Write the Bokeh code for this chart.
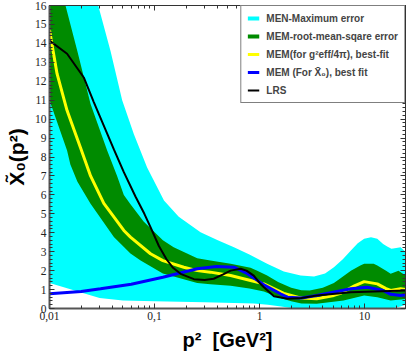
from bokeh.plotting import figure
from bokeh.models import (FixedTicker, SingleIntervalTicker, LogAxis, LinearAxis,
                          Legend, LegendItem, CustomJSTickFormatter)
from bokeh.embed import file_html
from bokeh.resources import INLINE

# ---------------- data ----------------
# MEN - maximum error band
x_cyan_up = [0.01, 0.02, 0.0291, 0.0381, 0.0492, 0.0636, 0.085, 0.123, 0.17, 0.274, 0.4, 0.57,
             0.8, 1.18, 1.7, 2.46, 3.3, 4.2, 5.1, 6.2, 7.4, 8.6, 9.9, 11.5, 13.2, 15.0, 16.4,
             18.0, 20.0, 22.0, 24.5]
y_cyan_up = [24.0, 19.0, 16.0, 13.6, 11.0, 9.2, 7.45, 5.7, 4.85, 4.03, 3.6, 3.24,
             2.85, 2.36, 1.95, 1.74, 1.69, 1.85, 2.18, 2.6, 3.06, 3.45, 3.68, 3.76, 3.68, 3.4, 3.27,
             3.15, 3.2, 3.24, 3.0]
x_cyan_lo = [0.01, 0.015, 0.02, 0.03, 0.05, 0.1, 0.3, 0.88, 1.2, 1.6, 2.0, 3.0, 10.0, 18.0, 22.0, 24.5]
y_cyan_lo = [1.35, 1.05, 0.85, 0.55, 0.42, 0.38, 0.33, 0.26, 0.2, 0.1, 0.03, 0.0, 0.0, 0.0, 0.1, 0.2]

# MEM - root-mean-square error band
x_green_up = [0.01, 0.0142, 0.0184, 0.0246, 0.0354, 0.044, 0.051, 0.059, 0.0787, 0.12, 0.152,
              0.255, 0.34, 0.53, 0.82, 0.95, 1.18, 1.5, 2.0, 2.5, 3.0, 4.0, 5.1, 5.9, 7.4, 9.1,
              9.9, 12.2, 13.2, 16.0, 17.7, 21.0, 24.5]
y_green_up = [19.5, 16.0, 13.6, 10.8, 8.34, 7.0, 6.0, 5.5, 4.6, 3.6, 3.24,
              2.65, 2.53, 2.36, 2.15, 2.0, 1.74, 1.4, 1.1, 0.97, 0.95, 1.1, 1.35, 1.6, 2.0, 2.27,
              2.36, 2.36, 2.27, 2.0, 1.83, 2.0, 1.74]
x_green_lo = [0.01, 0.0147, 0.0158, 0.0184, 0.0246, 0.041, 0.059, 0.0737, 0.12, 0.255, 0.34,
              0.53, 0.8, 1.1, 1.5, 2.0, 2.5, 3.5, 6.3, 9.9, 13.2, 17.7, 24.5]
y_green_lo = [11.0, 8.34, 7.6, 6.7, 5.53, 3.77, 2.9, 2.53, 1.85, 1.35, 1.28,
              1.2, 1.05, 0.9, 0.6, 0.38, 0.27, 0.25, 0.42, 0.69, 0.6, 0.42, 0.5]

# MEM (for g^2_eff/4pi), best fit
x_yellow = [0.01, 0.0118, 0.0147, 0.0197, 0.0246, 0.0329, 0.051, 0.059, 0.0915, 0.12, 0.19,
            0.255, 0.34, 0.53, 0.82, 1.1, 1.7, 2.5, 3.5, 5.1, 5.9, 8.0, 9.9, 13.2, 16.0, 17.7,
            22.0, 24.5]
y_yellow = [14.7, 12.4, 10.45, 8.5, 7.0, 5.55, 4.12, 3.77, 2.89, 2.53, 2.18,
            2.0, 1.92, 1.74, 1.48, 1.3, 0.8, 0.55, 0.51, 0.69, 0.8, 1.2, 1.42, 1.3, 1.05, 0.95,
            1.04, 1.0]

# MEM (for X0), best fit
x_blue = [0.01, 0.02, 0.0306, 0.06, 0.12, 0.255, 0.39, 0.57, 0.76, 1.1, 1.58, 1.84, 2.5, 3.5,
          7.4, 10.6, 15.0, 17.7, 22.0, 24.5]
y_blue = [0.78, 0.9, 1.04, 1.28, 1.65, 2.1, 2.22, 2.18, 1.85, 1.25, 0.78, 0.6, 0.55, 0.69,
          1.04, 1.12, 0.95, 0.75, 0.69, 0.72]

# LRS
x_black = [0.01, 0.0147, 0.0212, 0.0264, 0.041, 0.051, 0.066, 0.08, 0.0915, 0.11, 0.13, 0.15,
           0.177, 0.237, 0.3, 0.366, 0.45, 0.53, 0.66, 0.75, 0.88, 1.0, 1.1, 1.37, 1.84, 2.5,
           3.5, 7.4, 24.5]
y_black = [14.15, 13.45, 12.2, 10.9, 8.4, 7.2, 5.9, 5.0, 4.3, 3.3, 2.6, 2.15,
           1.83, 1.55, 1.5, 1.57, 1.8, 2.0, 2.1, 2.0, 1.74, 1.35, 1.12, 0.65, 0.51, 0.55,
           0.69, 0.86, 0.95]

legend_labels = ["MEN-Maximum error", "MEM-root-mean-sqare error",
                 "MEM(for g\u00b2eff/4\u03c0), best-fit", "MEM (For X\u0304\u2080), best fit", "LRS"]

x_major = [0.01, 0.1, 1, 10]
x_major_labels = ["0,01", "0,1", "1", "10"]
x_minor = [m * d for d in (0.01, 0.1, 1, 10) for m in range(2, 10) if m * d <= 24.5]

# ---------------- figure ----------------
p = figure(width=409, height=354, x_axis_type="log", x_range=(0.01, 24.5), y_range=(0, 16),
           output_backend="svg", toolbar_location=None,
           min_border_left=49, min_border_right=4, min_border_top=5, min_border_bottom=46)
p.xgrid.visible = False
p.ygrid.visible = False
p.outline_line_color = "#333333"
p.outline_line_width = 1

CYAN, GREEN, YELLOW, BLUE = "#00FFFF", "#008B00", "#FFFF00", "#0000FF"

p.patch(x_cyan_up + x_cyan_lo[::-1], y_cyan_up + y_cyan_lo[::-1], fill_color=CYAN, line_color=None)
p.patch(x_green_up + x_green_lo[::-1], y_green_up + y_green_lo[::-1], fill_color=GREEN, line_color=None)
r_y = p.line(x_yellow, y_yellow, line_color=YELLOW, line_width=3)
r_b = p.line(x_blue, y_blue, line_color=BLUE, line_width=3)
r_k = p.line(x_black, y_black, line_color="black", line_width=2)

# legend swatches for the bands (drawn only in the legend, outside the visible range)
r_c_leg = p.line([0.001, 0.002], [-5, -5], line_color=CYAN, line_width=4)
r_g_leg = p.line([0.001, 0.002], [-5, -5], line_color=GREEN, line_width=4)

# ---------------- axes ----------------
xt = FixedTicker(ticks=x_major, minor_ticks=x_minor)
yt = SingleIntervalTicker(interval=1, num_minor_ticks=5)

def style(ax, labels=True):
    ax.axis_line_color = "#555555"
    ax.axis_line_width = 2
    ax.major_tick_in = 5
    ax.major_tick_out = 0
    ax.minor_tick_in = 3
    ax.minor_tick_out = 0
    ax.major_tick_line_color = "#333333"
    ax.minor_tick_line_color = "#333333"
    if labels:
        ax.major_label_text_font = "Liberation Serif"
        ax.major_label_text_font_size = "11.5px"
        ax.major_label_text_color = "#222222"
        ax.major_label_standoff = 3
    else:
        ax.formatter = CustomJSTickFormatter(code="return ''")
        ax.major_label_text_font_size = "4px"
        ax.major_label_standoff = 0

xa = p.xaxis[0]
xa.ticker = xt
xa.major_label_overrides = {v: s for v, s in zip(x_major, x_major_labels)}
style(xa)
xa.axis_label = "p\u00b2 \u00a0[GeV\u00b2]"
xa.axis_label_text_font = "Liberation Sans"
xa.axis_label_text_font_style = "bold"
xa.axis_label_text_font_size = "20px"
xa.axis_label_standoff = 6
xa.axis_label_text_color = "black"

ya = p.yaxis[0]
ya.ticker = yt
style(ya)
ya.axis_label = "X\u0303\u2080(p\u00b2)"
ya.axis_label_text_font = "Liberation Sans"
ya.axis_label_text_font_style = "bold"
ya.axis_label_text_font_size = "21px"
ya.axis_label_standoff = 4
ya.axis_label_text_color = "black"

top = LogAxis(ticker=xt)
style(top, labels=False)
top.axis_line_color = "#333333"
top.axis_line_width = 1
p.add_layout(top, "above")

right = LinearAxis(ticker=yt)
style(right, labels=False)
right.axis_line_color = "#333333"
right.axis_line_width = 1
p.add_layout(right, "right")

# ---------------- legend ----------------
legend = Legend(items=[LegendItem(label=legend_labels[0], renderers=[r_c_leg]),
                       LegendItem(label=legend_labels[1], renderers=[r_g_leg]),
                       LegendItem(label=legend_labels[2], renderers=[r_y]),
                       LegendItem(label=legend_labels[3], renderers=[r_b]),
                       LegendItem(label=legend_labels[4], renderers=[r_k])],
                location="top_right")
legend.margin = 0
legend.padding = 6
legend.spacing = 6
legend.label_height = 12
legend.glyph_height = 12
legend.glyph_width = 12
legend.label_standoff = 7
legend.border_line_color = "black"
legend.border_line_width = 1
legend.background_fill_color = "white"
legend.background_fill_alpha = 1
legend.label_text_font = "Liberation Sans"
legend.label_text_font_style = "bold"
legend.label_text_font_size = "10px"
p.add_layout(legend)

open("out.html", "w").write(file_html(p, INLINE))
